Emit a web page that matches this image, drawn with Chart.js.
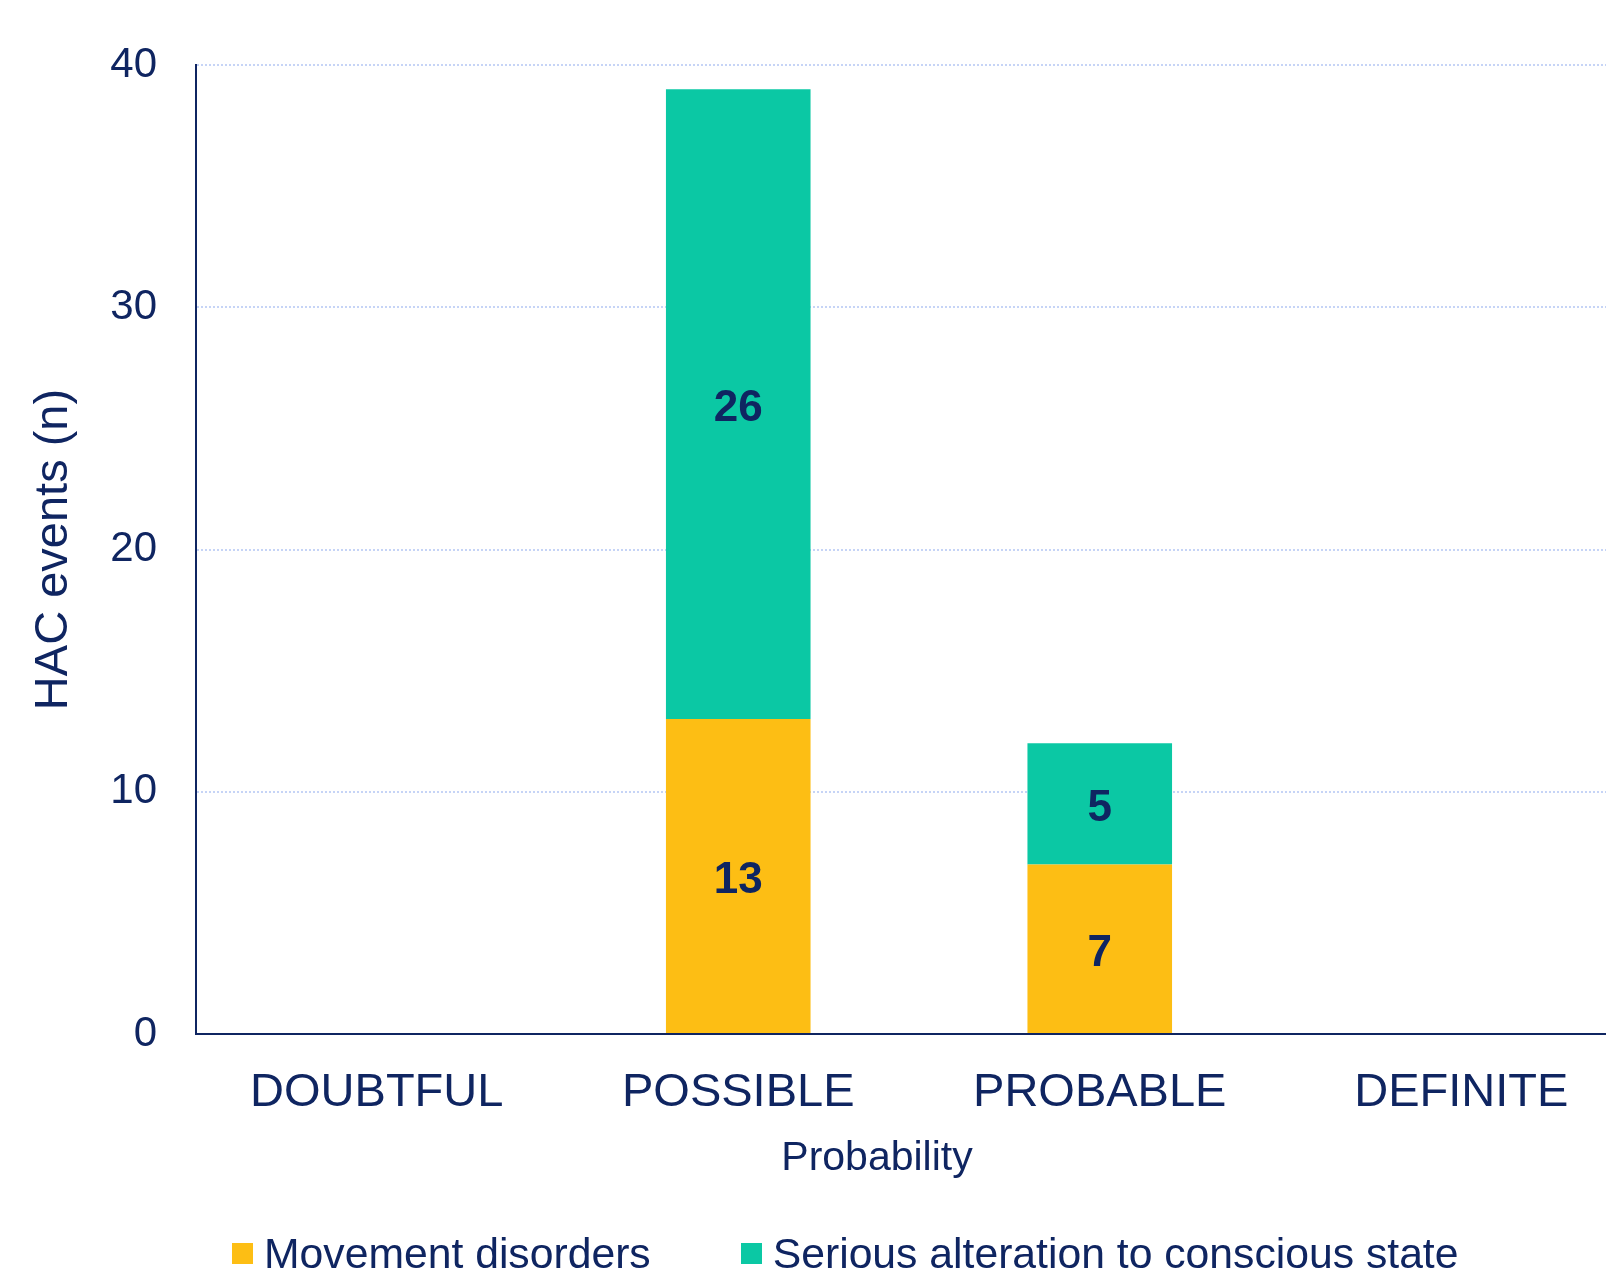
<!DOCTYPE html>
<html>
<head>
<meta charset="utf-8">
<script src="https://cdn.jsdelivr.net/npm/chart.js@4/dist/chart.umd.min.js"></script>
<style>
  html, body { margin: 0; padding: 0; overflow: hidden; background: #fff; }
  #contenedor { position: relative; width: 1642px; height: 1270px; }
  #leyenda {
    position: absolute; left: 232px; top: 1228px;
    font: 42.7px/50px "Liberation Sans", Arial, sans-serif;
    color: #0f2561; white-space: nowrap;
  }
  #leyenda .item { display: inline-block; }
  #leyenda .item + .item { margin-left: 90px; }
  #leyenda .caja { display: inline-block; width: 21px; height: 21px; margin-right: 11px; vertical-align: 4px; }
</style>
</head>
<body>
<div id="contenedor">
  <canvas id="myChart" width="1642" height="1270"></canvas>
  <div id="leyenda"></div>
</div>
<script>
// Datos del gráfico
const categorias = ['DOUBTFUL', 'POSSIBLE', 'PROBABLE', 'DEFINITE'];
const nombresSeries = ['Movement disorders', 'Serious alteration to conscious state'];
const trastornosMovimiento = [0, 13, 7, 0];
const alteracionConciencia = [0, 26, 5, 0];
const marcasY = [0, 10, 20, 30, 40];

const AZUL = '#0f2561';
const FUENTE = '"Liberation Sans", Arial, sans-serif';

// Plugin para escribir el valor dentro de cada segmento
const etiquetasPlugin = {
  id: 'etiquetas',
  afterDatasetsDraw(chart) {
    const ctx = chart.ctx;
    ctx.save();
    ctx.fillStyle = AZUL;
    ctx.font = 'bold 44px ' + FUENTE;
    ctx.textAlign = 'center';
    ctx.textBaseline = 'middle';
    chart.data.datasets.forEach(function (ds, i) {
      chart.getDatasetMeta(i).data.forEach(function (bar, j) {
        const v = ds.data[j];
        if (!v) return;
        const p = bar.getProps(['x', 'y', 'base'], true);
        ctx.fillText(String(v), p.x, (p.y + p.base) / 2 + 5);
      });
    });
    ctx.restore();
  }
};

// Plugin para el título del eje X (va algo a la izquierda del centro del área)
const tituloXPlugin = {
  id: 'tituloX',
  afterDraw(chart) {
    const ctx = chart.ctx;
    ctx.save();
    ctx.fillStyle = AZUL;
    ctx.font = '41px ' + FUENTE;
    ctx.textAlign = 'center';
    ctx.textBaseline = 'alphabetic';
    ctx.fillText('Probability', 877, 1170);
    ctx.restore();
  }
};

// Leyenda en HTML construida a partir de los datasets
function crearLeyenda(chart) {
  const cont = document.getElementById('leyenda');
  chart.data.datasets.forEach(function (ds) {
    const item = document.createElement('span');
    item.className = 'item';
    const caja = document.createElement('span');
    caja.className = 'caja';
    caja.style.background = ds.backgroundColor;
    item.appendChild(caja);
    item.appendChild(document.createTextNode(ds.label));
    cont.appendChild(item);
  });
}

const ctx = document.getElementById('myChart').getContext('2d');
const grafico = new Chart(ctx, {
  type: 'bar',
  data: {
    labels: categorias,
    datasets: [{
      label: nombresSeries[0],
      data: trastornosMovimiento,
      backgroundColor: '#fdbe14',
      categoryPercentage: 0.4,
      barPercentage: 1
    }, {
      label: nombresSeries[1],
      data: alteracionConciencia,
      backgroundColor: '#0bc8a4',
      categoryPercentage: 0.4,
      barPercentage: 1
    }]
  },
  options: {
    responsive: false,
    animation: false,
    layout: { padding: { top: 65, right: 0, bottom: 70, left: 0 } },
    plugins: {
      legend: { display: false },
      tooltip: { enabled: false }
    },
    scales: {
      x: {
        stacked: true,
        grid: { display: false, drawTicks: false },
        border: { display: true, color: AZUL, width: 2 },
        ticks: { color: AZUL, font: { family: FUENTE, size: 47 }, padding: 31, maxRotation: 0 },
        afterFit: function (s) { s.height = 1270 - 70 - 1034; }
      },
      y: {
        stacked: true,
        min: marcasY[0],
        max: marcasY[marcasY.length - 1],
        grid: { color: '#c6d4f6', lineWidth: 2, drawTicks: false },
        border: { display: true, color: AZUL, width: 2, dash: [2, 2] },
        ticks: { stepSize: marcasY[1] - marcasY[0], color: AZUL, font: { family: FUENTE, size: 42 }, padding: 39 },
        title: { display: true, text: 'HAC events (n)', color: AZUL, font: { family: FUENTE, size: 47 }, padding: { top: 26, bottom: 0 } },
        afterFit: function (s) { s.width = 196; }
      }
    }
  },
  plugins: [etiquetasPlugin, tituloXPlugin]
});

crearLeyenda(grafico);
</script>
</body>
</html>
